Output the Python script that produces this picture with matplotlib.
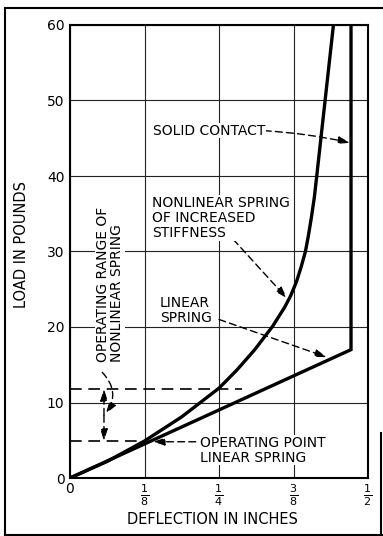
import numpy as np
import matplotlib.pyplot as plt
from matplotlib.lines import Line2D

plt.rcParams['font.family'] = ['DejaVu Sans']
plt.rcParams['mathtext.fontset'] = 'dejavusans'

# deflection (in) / load (lb)
nonlin_defl = [0.0, 0.0625, 0.125, 0.1875, 0.25, 0.28, 0.31, 0.34, 0.36, 0.37,
               0.38, 0.388, 0.395, 0.40, 0.405, 0.41, 0.414, 0.428, 0.442]
nonlin_load = [0.0, 2.2, 4.9, 8.1, 11.9, 14.3, 17.0, 20.1, 22.6, 24.1,
               26.0, 28.0, 30.0, 32.1, 34.5, 37.2, 40.0, 50.0, 60.0]
linear_defl = [0.0, 0.4715, 0.4715]
linear_load = [0.0, 17.0, 60.0]

op_point = (0.125, 4.9)     # operating point of linear spring
op_range = (4.9, 11.8)      # operating range of nonlinear spring

x_ticks = [0, 0.125, 0.25, 0.375, 0.5]
x_labels = ['0', r'$\frac{1}{8}$', r'$\frac{1}{4}$', r'$\frac{3}{8}$', r'$\frac{1}{2}$']
y_ticks = [0, 10, 20, 30, 40, 50, 60]

fig = plt.figure(figsize=(3.83, 5.36), dpi=100)
ax = fig.add_axes([70/383, 58/536, 298/383, 453/536])
ax.set_xlim(0, 0.5)
ax.set_ylim(0, 60)
ax.set_xticks(x_ticks)
ax.set_xticklabels(x_labels, fontsize=11.5)
ax.get_xticklabels()[0].set_fontsize(10)
ax.set_yticks(y_ticks)
ax.set_yticklabels([str(v) for v in y_ticks], fontsize=10)
ax.tick_params(length=0, pad=4)
ax.tick_params(axis='x', pad=3)
ax.grid(True, color='#222222', linewidth=0.8)
ax.set_axisbelow(True)
for s in ax.spines.values():
    s.set_linewidth(1.5)

ax.plot(nonlin_defl, nonlin_load, color='black', lw=2.4, solid_capstyle='butt',
        solid_joinstyle='round', zorder=3)
ax.plot(linear_defl, linear_load, color='black', lw=2.4, solid_joinstyle='miter', zorder=3)

dash = (0, (5, 3))
tbox = dict(facecolor='white', edgecolor='none', pad=0.5)
fs = 10

# operating range dashed levels
ax.plot([0, op_point[0]], [op_range[0]] * 2, color='black', lw=1.2, ls=(0, (7, 4)), zorder=2)
ax.plot([0, 0.289], [op_range[1]] * 2, color='black', lw=1.2, ls=(0, (7, 4)), zorder=2)


def leader(xy_text, xy_tip, rad=0.0):
    ax.annotate('', xy=xy_tip, xytext=xy_text,
                arrowprops=dict(arrowstyle='-|>,head_length=0.7,head_width=0.22',
                                linestyle=dash, lw=1.0, color='black',
                                shrinkA=0, shrinkB=0,
                                connectionstyle='arc3,rad=%s' % rad), zorder=4)


# vertical double arrow for the range
leader((0.057, 8.3), (0.057, op_range[1]))
leader((0.057, 8.3), (0.057, op_range[0]))

ax.text(0.139, 46, 'SOLID CONTACT', fontsize=fs, va='center', ha='left', bbox=tbox, zorder=5)
leader((0.326, 46), (0.470, 44.4), rad=-0.04)

ax.text(0.138, 34.4, 'NONLINEAR SPRING\nOF INCREASED\nSTIFFNESS', fontsize=fs,
        va='center', ha='left', linespacing=1.1, bbox=tbox, zorder=5)
leader((0.274, 31.6), (0.364, 23.8))

ax.text(0.151, 22.2, 'LINEAR\nSPRING', fontsize=fs, va='center', ha='left',
        linespacing=1.1, bbox=tbox, zorder=5)
leader((0.250, 21.0), (0.431, 16.0))

ax.text(0.218, 3.7, 'OPERATING POINT\nLINEAR SPRING', fontsize=fs, va='center', ha='left',
        linespacing=1.1, bbox=tbox, zorder=5)
leader((0.211, 4.8), (0.139, 4.8))

ax.text(0.067, 25.6, 'OPERATING RANGE OF\nNONLINEAR SPRING', fontsize=fs, rotation=90,
        va='center', ha='center', multialignment='left', linespacing=1.0,
        bbox=tbox, zorder=5)
leader((0.054, 14.0), (0.060, 8.5), rad=-0.4)

fig.text(22/383, 1 - 245/536, 'LOAD IN POUNDS', rotation=90, fontsize=10.5,
         ha='center', va='center')
fig.text(212/383, 1 - 519/536, 'DEFLECTION IN INCHES', fontsize=10.5,
         ha='center', va='center')

# page border
for xs, ys in [([5/383, 5/383], [0, 1 - 8/536]),
               ([5/383, 1], [1 - 8/536, 1 - 8/536]),
               ([5/383, 1], [1 / 536, 1 / 536]),
               ([381/383, 381/383], [0, 1 - 433/536])]:
    fig.add_artist(Line2D(xs, ys, color='black', lw=1.5))

fig.savefig('out.png', dpi=100)
